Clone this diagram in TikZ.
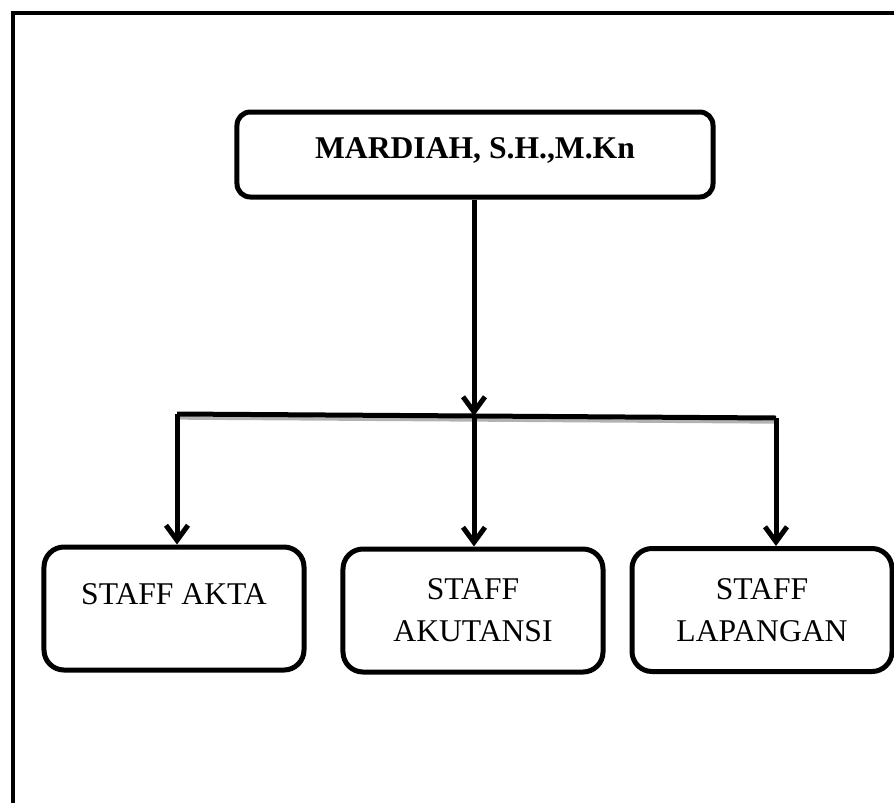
\documentclass[tikz,border=0pt]{standalone}
\usepackage{fontspec}
\setmainfont{Liberation Serif}
\usetikzlibrary{arrows.meta}
\usetikzlibrary{calc}

\begin{document}
\begin{tikzpicture}[x=.03cm,y=-.03cm,
  kotak/.style={draw, line width=.15cm, rounded corners=.6cm, minimum width=7.8cm, minimum height=3.69cm, align=center, font=\fontsize{27}{36}\selectfont},
  garis/.style={black, line width=.15cm},
  panah/.style={garis, -{Straight Barb[length=.45cm,width=.66cm]}}]
\useasboundingbox (0,0) rectangle (894,803);
\draw[black, line width=.12cm] (13,803)--(13,13)--(894,13);
\node[kotak, rounded corners=.4cm, minimum width=14.28cm, minimum height=2.55cm, font=\fontsize{27}{36}\selectfont\bfseries, text height=.63cm, text depth=.42cm] (mardiah) at (475,154.5) {MARDIAH, S.H.,M.Kn};
\node[kotak, text height=.63cm, text depth=.9cm] (akta) at (174,608.5) {STAFF AKTA};
\node[kotak] (akutansi) at (473,610.5) {STAFF\\AKUTANSI};
\node[kotak] (lapangan) at (762,610) {STAFF\\LAPANGAN};
% garis cabang
\coordinate (kiri) at (177,414);
\coordinate (tengah) at (474,416);
\coordinate (kanan) at (776,418);
\draw[gray!60, line width=.1cm] ($(kiri)+(0,4)$)--($(kanan)+(0,4)$);
\draw[garis] (kiri)--(kanan);
\draw[panah] (mardiah.south -| tengah)--(tengah);
\foreach \k/\b in {kiri/akta, tengah/akutansi, kanan/lapangan}
 \draw[panah] (\k)--(\k |- \b.north);
\end{tikzpicture}
\end{document}
